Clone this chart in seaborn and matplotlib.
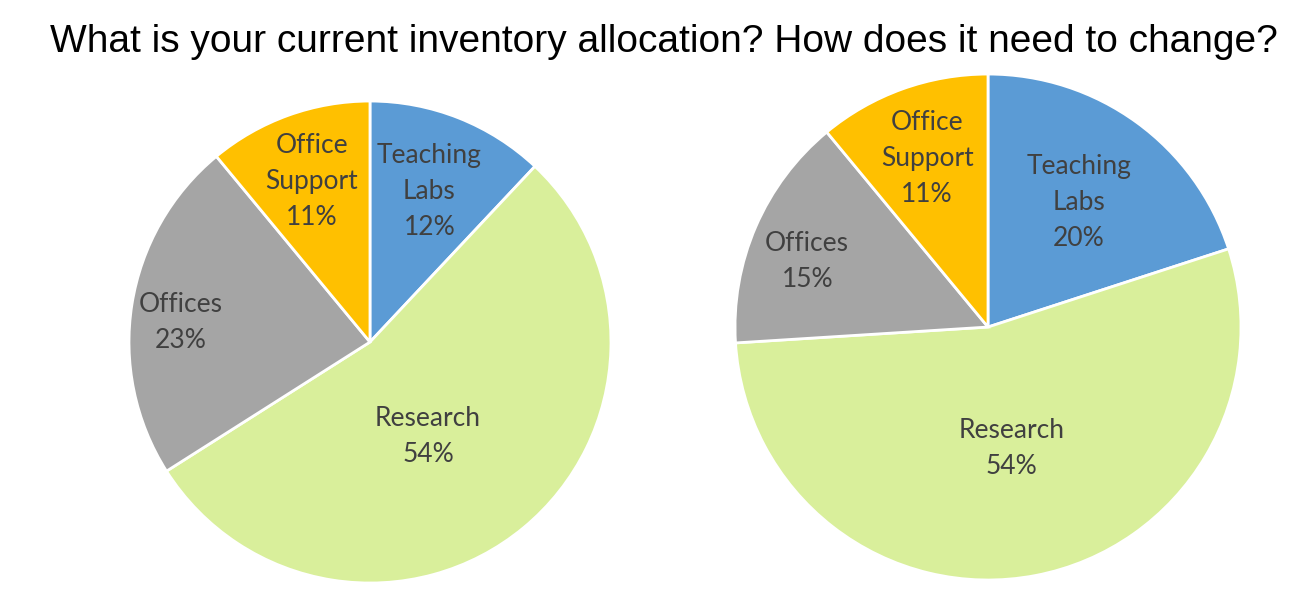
import numpy as np
import matplotlib
matplotlib.use("Agg")
import matplotlib.pyplot as plt
import seaborn as sns

sns.set_theme(style="white")
plt.rcParams['font.family'] = ['Lato', 'DejaVu Sans']

# data
categories = ["Teaching\nLabs", "Research", "Offices", "Office\nSupport"]
current = [12, 54, 23, 11]
needed = [20, 54, 15, 11]
colors = ["#5B9BD5", "#D9EF9B", "#A5A5A5", "#FFC000"]
title = "What is your current inventory allocation? How does it need to change?"

# label placement per slice: fraction of radius, angle nudge in degrees
label_r_left = [0.67, 0.46, 0.79, 0.71]
label_da_left = [0, -8, 3, 0]
label_r_right = [0.61, 0.49, 0.76, 0.71]
label_da_right = [0, 0, 3.5, 0]

fig = plt.figure(figsize=(13, 6), dpi=100)
fig.patch.set_facecolor("white")


def draw_pie(rect, values, label_r, label_da):
    ax = fig.add_axes(rect)
    wedges, _ = ax.pie(values, colors=colors, startangle=90, counterclock=False,
                       wedgeprops=dict(edgecolor="white", linewidth=2))
    for w, lab, v, r, da in zip(wedges, categories, values, label_r, label_da):
        mid = np.deg2rad((w.theta1 + w.theta2) / 2 + da)
        ax.text(r * np.cos(mid), r * np.sin(mid), f"{lab}\n{v}%",
                ha="center", va="center", fontsize=19, color="#404040",
                linespacing=1.55)
    ax.set_xlim(-1, 1)
    ax.set_ylim(-1, 1)
    ax.set_aspect("equal")
    ax.axis("off")
    return ax


draw_pie([0.0992, 0.0283, 0.3708, 0.8033], current, label_r_left, label_da_left)
draw_pie([0.5654, 0.0333, 0.3892, 0.8433], needed, label_r_right, label_da_right)

fig.text(0.5104, 0.93, title, ha="center", va="center", fontsize=28,
         family=["Liberation Sans", "DejaVu Sans"], color="black")

fig.savefig("out.png", dpi=100, facecolor="white")
